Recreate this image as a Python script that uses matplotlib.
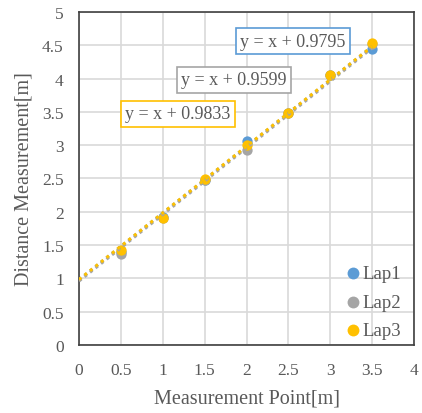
import matplotlib
matplotlib.use("Agg")
import matplotlib.pyplot as plt
import numpy as np

x_points = [0.5, 1.0, 1.5, 2.0, 2.5, 3.0, 3.5]
lap1 = [1.40, 1.92, 2.47, 3.06, 3.49, 4.05, 4.45]
lap2 = [1.37, 1.91, 2.48, 2.93, 3.48, 4.05, 4.52]
lap3 = [1.42, 1.91, 2.49, 3.01, 3.49, 4.05, 4.53]
intercepts = [0.9795, 0.9599, 0.9833]
series_names = ["Lap1", "Lap2", "Lap3"]
colors = ["#5B9BD5", "#A5A5A5", "#FFC000"]
eq_positions = [(2.555, 4.56), (1.85, 3.98), (1.18, 3.47)]
xticks = [0, 0.5, 1, 1.5, 2, 2.5, 3, 3.5, 4]
yticks = [0, 0.5, 1, 1.5, 2, 2.5, 3, 3.5, 4, 4.5, 5]

plt.rcParams['font.family'] = ['Liberation Serif', 'DejaVu Serif']
txt = "#595959"

fig = plt.figure(figsize=(4.22, 4.14), dpi=100)
ax = fig.add_axes([79/422, 1-346/414, (414-79)/422, (346-13)/414])

for d, c, n, b in zip([lap1, lap2, lap3], colors, series_names, intercepts):
    ax.scatter(x_points, d, s=55, color=c, label=n, zorder=3, linewidths=0)
for c, b in zip(colors, intercepts):
    xs = np.array([0, 3.5])
    ax.plot(xs, xs + b, linestyle=(0, (1, 1.3)), color=c, lw=2.2, zorder=4)

for (px, py), b, c in zip(eq_positions, intercepts, colors):
    ax.text(px, py, f"y = x + {b}", ha="center", va="center", fontsize=13, color=txt,
            bbox=dict(boxstyle="square,pad=0.25", fc="white", ec=c, lw=1.2), zorder=5)

ax.set_xlim(0, 4)
ax.set_ylim(0, 5)
ax.set_xticks(xticks)
ax.set_yticks(yticks)
ax.set_xticklabels([f"{t:g}" for t in xticks])
ax.set_yticklabels([f"{t:g}" for t in yticks])
ax.grid(True, color="#D9D9D9", lw=1.2)
ax.set_axisbelow(True)
ax.tick_params(axis="x", length=0, labelsize=12.5, labelcolor=txt, pad=12)
ax.tick_params(axis="y", length=0, labelsize=12.5, labelcolor=txt, pad=11)
for s in ax.spines.values():
    s.set_color("#404040")
    s.set_linewidth(1.2)
ax.set_xlabel("Measurement Point[m]", fontsize=14.5, color=txt, labelpad=8)
ax.set_ylabel("Distance Measurement[m]", fontsize=14.5, color=txt, labelpad=6)

leg = ax.legend(loc="lower right", bbox_to_anchor=(0.985, -0.005), frameon=False,
                fontsize=13.5, handletextpad=-0.1, labelspacing=0.6, borderaxespad=0.0,
                handlelength=1.2, markerscale=1.15)
for t in leg.get_texts():
    t.set_color(txt)

fig.savefig("out.png", dpi=100, facecolor="white")
